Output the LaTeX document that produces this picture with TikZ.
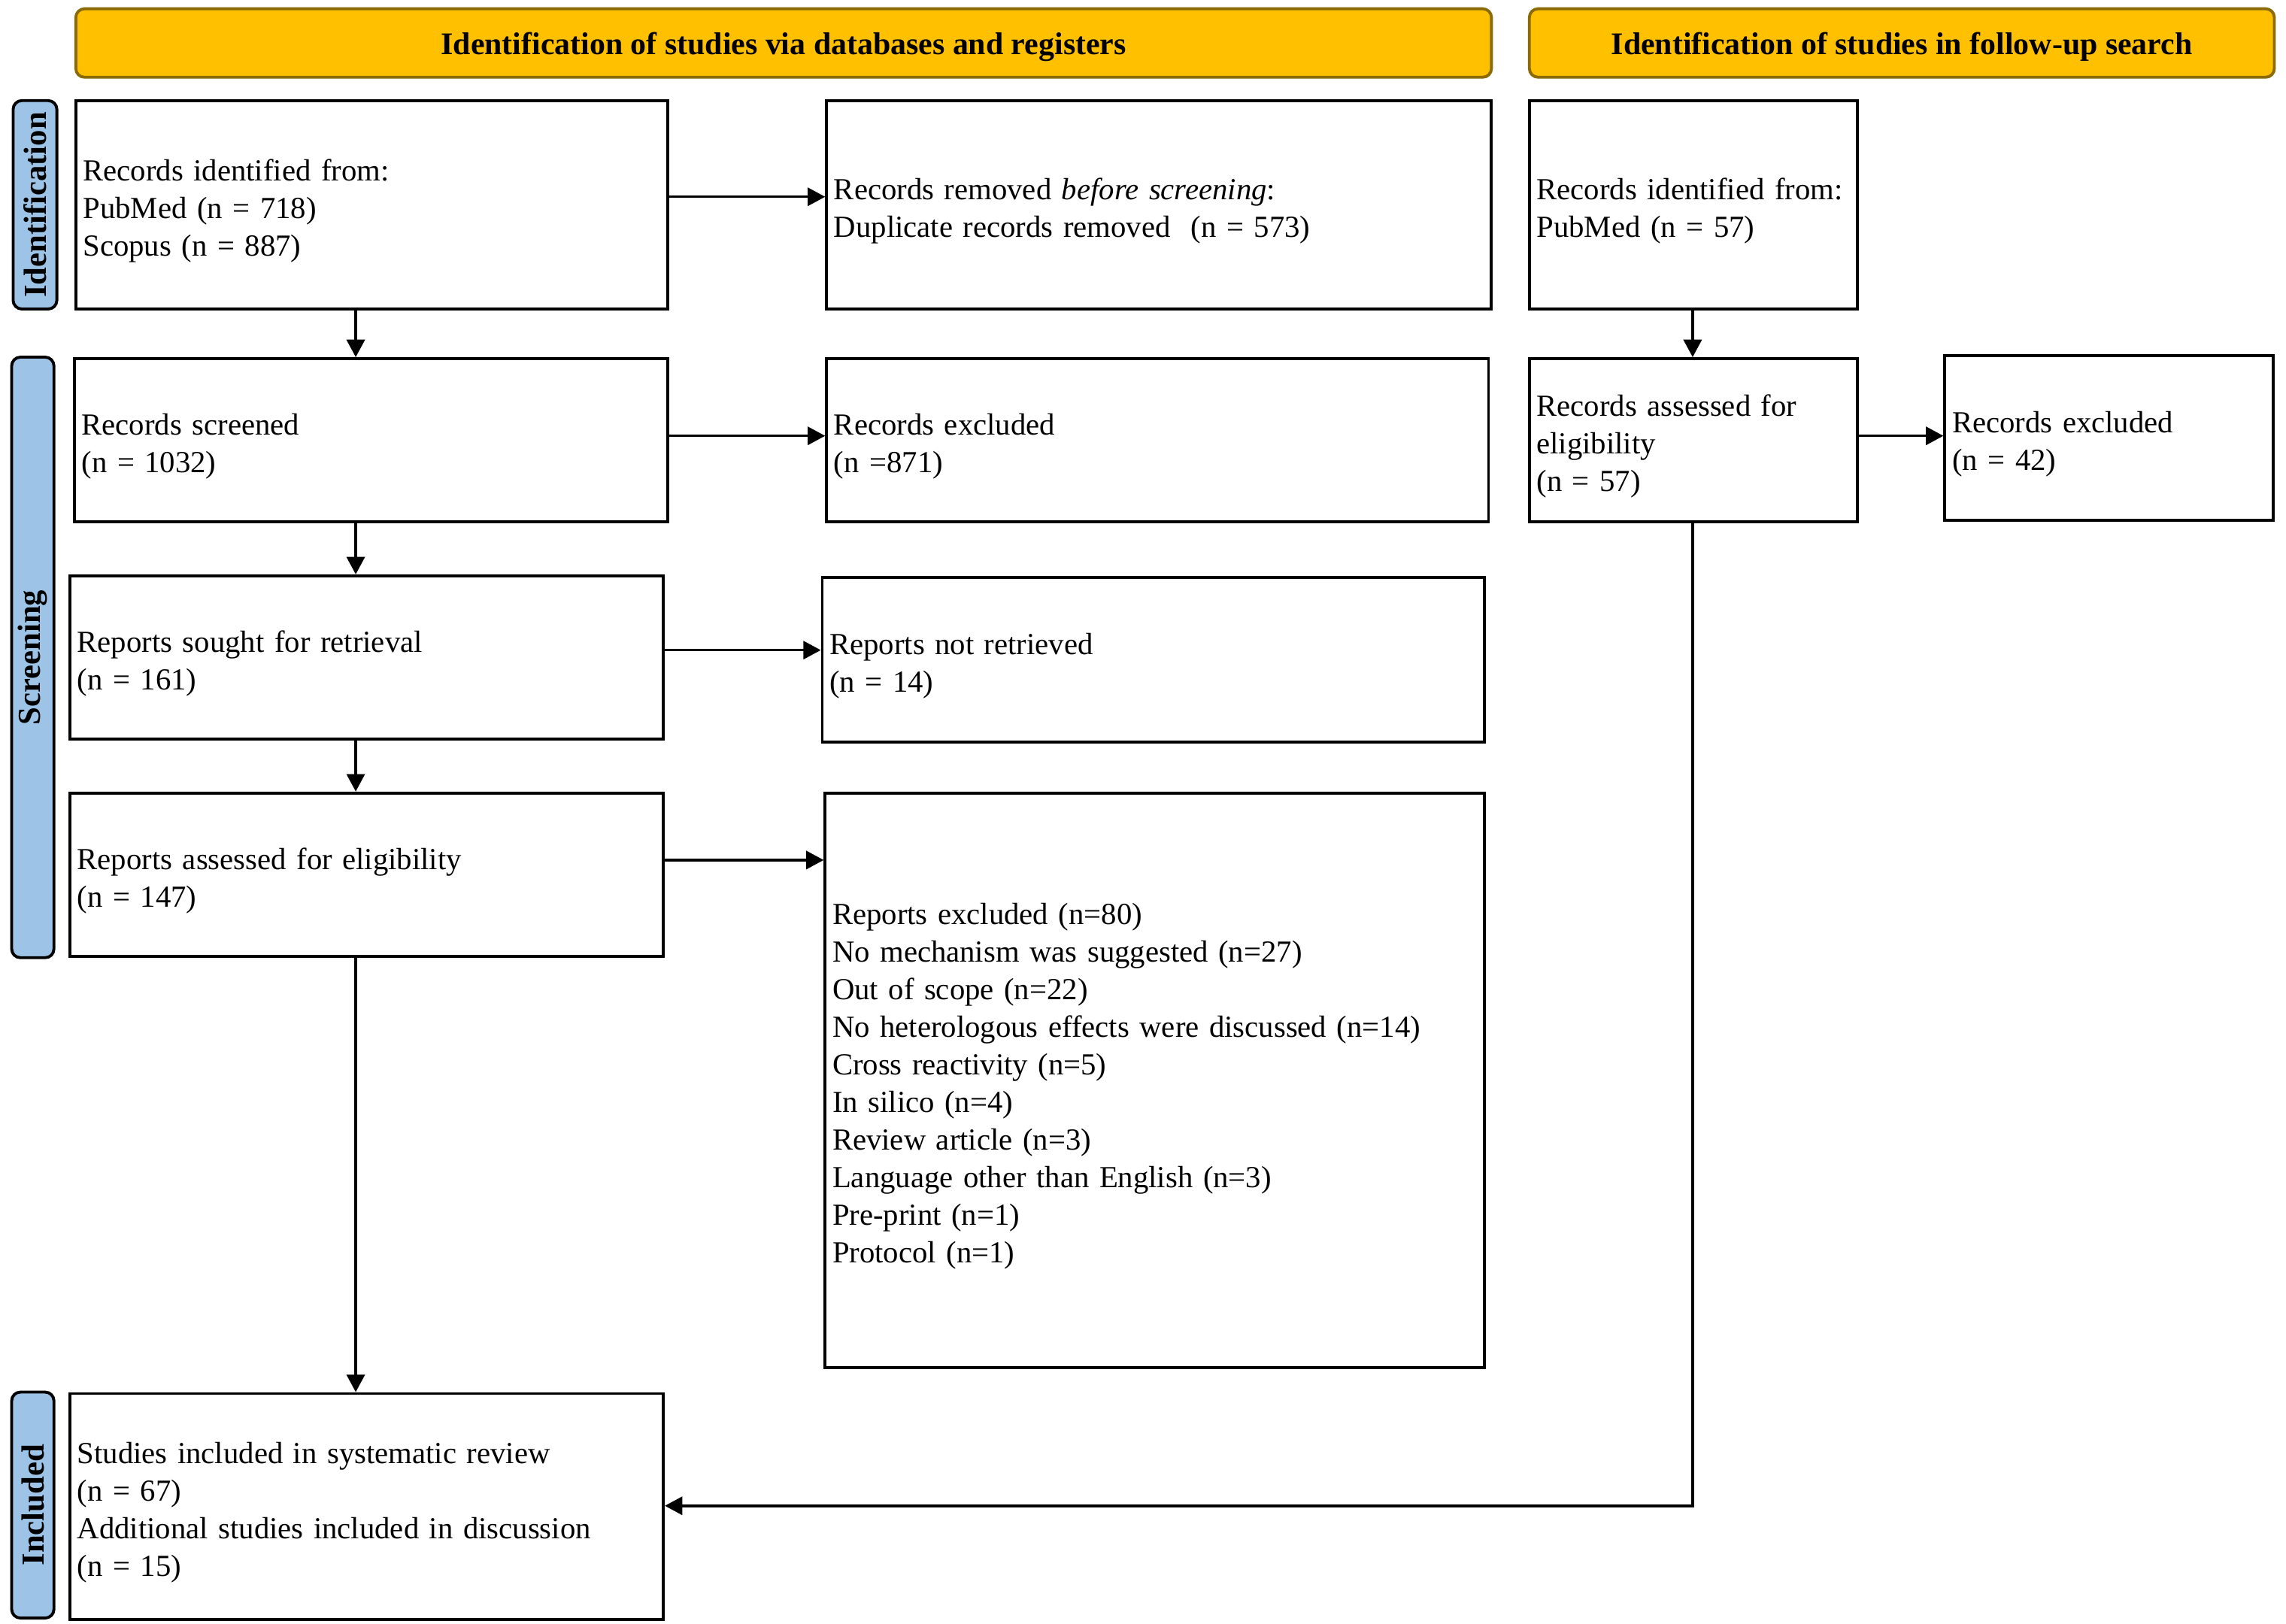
\documentclass[tikz,border=0pt]{standalone}
\usepackage{fontspec}
\setmainfont{Liberation Serif}
\usetikzlibrary{arrows.meta}
\definecolor{bannerfill}{HTML}{FFC000}
\definecolor{bannerborder}{HTML}{8B6B08}
\definecolor{sidefill}{HTML}{9DC3E6}
\begin{document}
\begin{tikzpicture}[x=0.5pt,y=-0.5pt,
  box/.style={draw=black, line width=1pt, fill=white, inner xsep=2.5pt, inner ysep=0pt, align=left,
    font=\fontsize{10.5}{12.9}\selectfont, execute at begin node={\rule{0pt}{11.6pt}}},
  banner/.style={draw=bannerborder, fill=bannerfill, line width=1pt, rounded corners=3pt, inner sep=0pt,
    text height=10.3pt, text depth=2.3pt, font=\fontsize{10.8}{13}\selectfont\bfseries},
  side/.style={draw=black, fill=sidefill, line width=1pt, rounded corners=3pt, inner sep=0pt, font=\fontsize{11}{13}\selectfont\bfseries},
  arr/.style={line width=0.9pt, -{Triangle[length=6pt,width=6.2pt]}}
]
\useasboundingbox (0,0) rectangle (1568,1114);

% banners
\node[banner, minimum width=485.5pt, minimum height=23.5pt] (b1) at (537.5,29.5) {Identification of studies via databases and registers};
\node[banner, minimum width=255.5pt, minimum height=23.5pt] (b2) at (1304.5,29.5) {Identification of studies in follow-up search};

% side labels
\node[side, minimum width=15pt, minimum height=71.5pt] (s1) at (24,140.5) {\rotatebox{90}{Identification}};
\node[side, minimum width=14.5pt, minimum height=206pt] (s2) at (22.5,451) {\rotatebox{90}{Screening}};
\node[side, minimum width=14.5pt, minimum height=77.5pt] (s3) at (22.5,1032.5) {\rotatebox{90}{Included}};

% left column
\node[box, minimum width=203pt, minimum height=71.5pt, text width=198pt] (A) at (255,140.5)
  {Records identified from:\\PubMed (n = 718)\\Scopus (n = 887)};
\node[box, minimum width=228pt, minimum height=71.5pt, text width=223pt] (B) at (795,140.5)
  {Records removed \textit{before screening}:\\Duplicate records removed\ \ (n = 573)};
\node[box, minimum width=203.5pt, minimum height=56pt, text width=198.5pt] (C) at (254.5,302)
  {Records screened\\(n = 1032)};
\node[box, minimum width=227pt, minimum height=56pt, text width=222pt] (D) at (794,302)
  {Records excluded\\(n =871)};
\node[box, minimum width=203.5pt, minimum height=56pt, text width=198.5pt] (E) at (251.5,451)
  {Reports sought for retrieval\\(n = 161)};
\node[box, minimum width=227pt, minimum height=56.5pt, text width=222pt] (F) at (791,452.5)
  {Reports not retrieved\\(n = 14)};
\node[box, minimum width=203.5pt, minimum height=56pt, text width=198.5pt] (G) at (251.5,600)
  {Reports assessed for eligibility\\(n = 147)};
\node[box, minimum width=226pt, minimum height=197pt, text width=221pt] (H) at (792,741)
  {Reports excluded (n=80)\\No mechanism was suggested (n=27)\\Out of scope (n=22)\\No heterologous effects were discussed (n=14)\\Cross reactivity (n=5)\\In silico (n=4)\\Review article (n=3)\\Language other than English (n=3)\\Pre-print (n=1)\\Protocol (n=1)};
\node[box, minimum width=203.5pt, minimum height=77.5pt, text width=198.5pt] (I) at (251.5,1033.5)
  {Studies included in systematic review\\(n = 67)\\Additional studies included in discussion\\(n = 15)};

% right column
\node[box, minimum width=112.5pt, minimum height=71.5pt, text width=107.5pt] (J) at (1161.5,140.5)
  {Records identified from:\\PubMed (n = 57)};
\node[box, minimum width=112.5pt, minimum height=56pt, text width=107.5pt] (K) at (1161.5,302)
  {Records assessed for\\eligibility\\(n = 57)};
\node[box, minimum width=112.5pt, minimum height=56.5pt, text width=107.5pt] (L) at (1446.5,300.5)
  {Records excluded\\(n = 42)};

% connectors
\coordinate (colx) at (244,0);
\coordinate (colr) at (1161,0);
\coordinate (turn) at (1161,1033);
\draw[arr] (A.east |- 0,135) -- (B.west |- 0,135);
\draw[arr] (A.south -| colx) -- (C.north -| colx);
\draw[arr] (C.east |- 0,299) -- (D.west |- 0,299);
\draw[arr] (C.south -| colx) -- (E.north -| colx);
\draw[arr] (E.east |- 0,446) -- (F.west |- 0,446);
\draw[arr] (E.south -| colx) -- (G.north -| colx);
\draw[arr] (G.east |- 0,590) -- (H.west |- 0,590);
\draw[arr] (G.south -| colx) -- (I.north -| colx);
\draw[arr] (J.south -| colr) -- (K.north -| colr);
\draw[arr] (K.east |- 0,299) -- (L.west |- 0,299);
\draw[arr] (K.south -| colr) -- (turn) -- (I.east |- turn);
\end{tikzpicture}
\end{document}
